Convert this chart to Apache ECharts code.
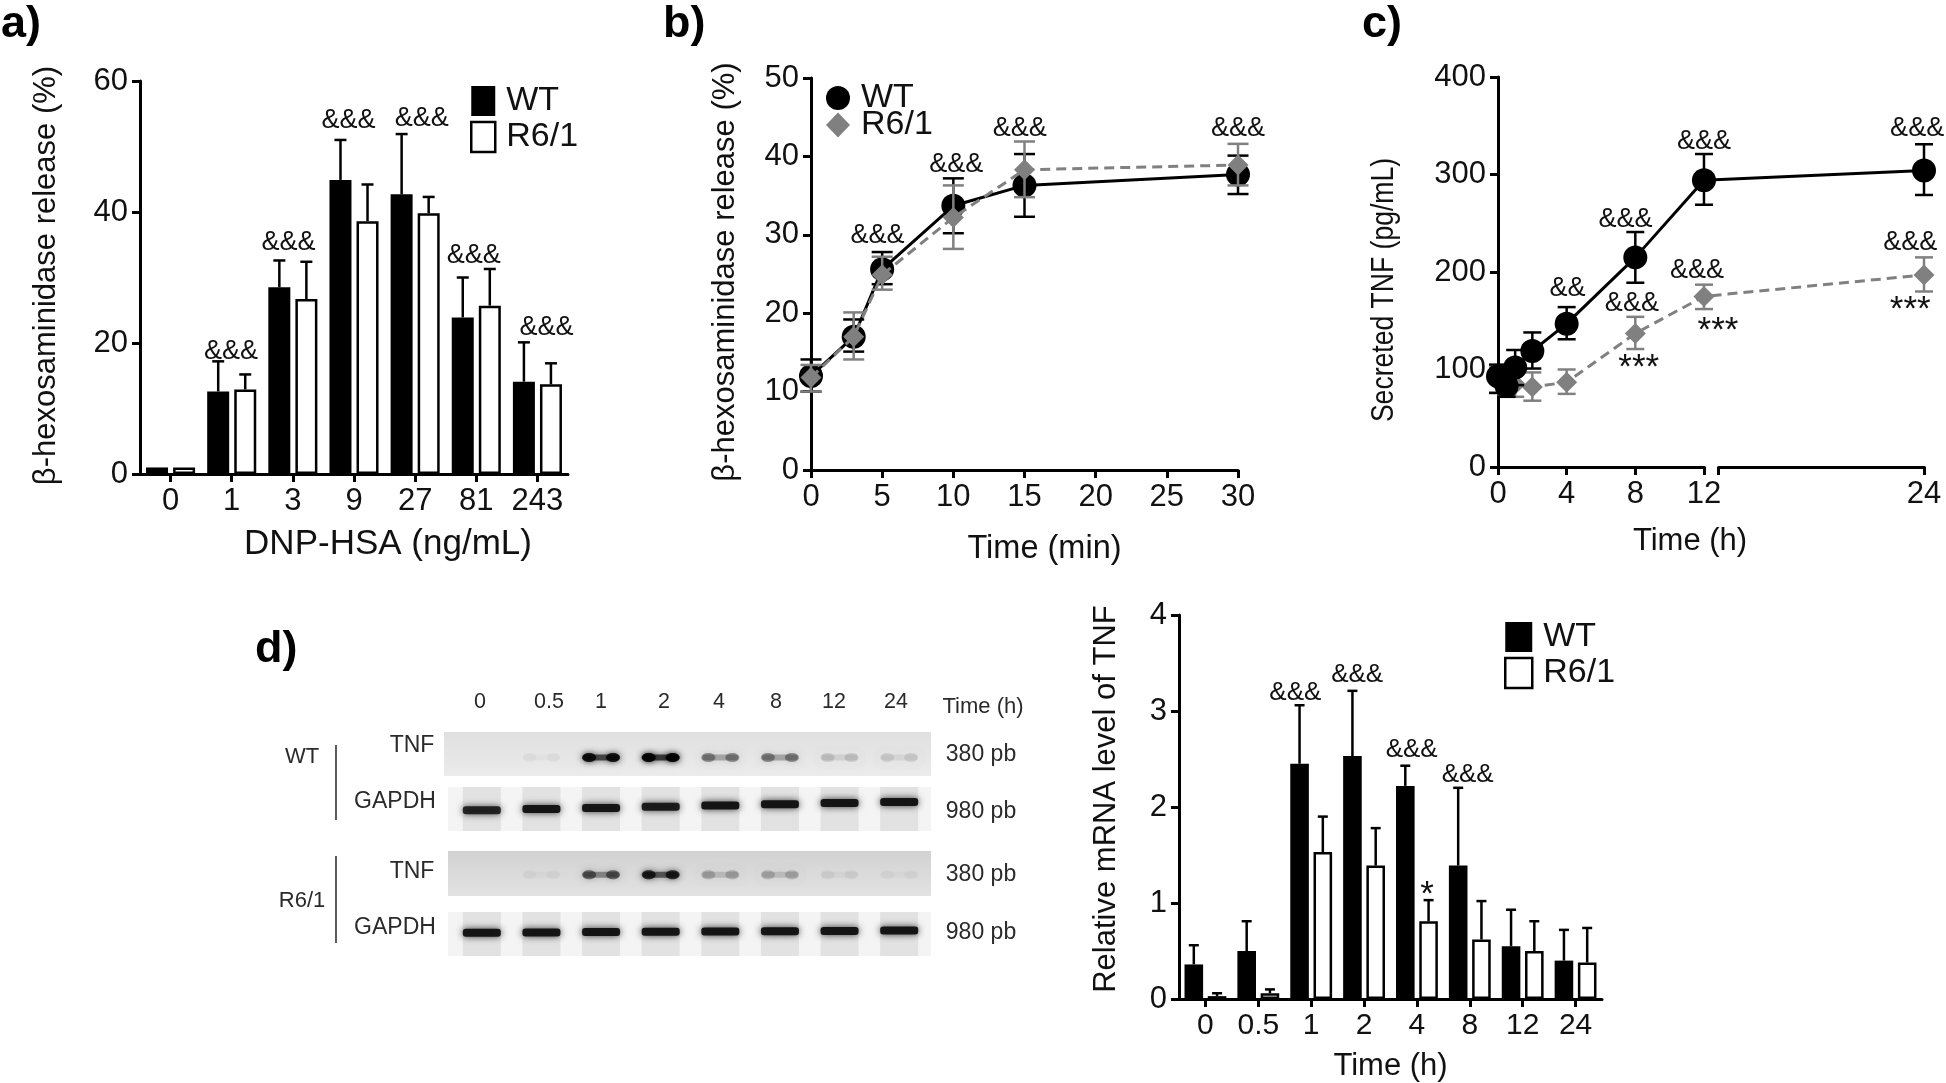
<!DOCTYPE html>
<html><head><meta charset="utf-8">
<style>html,body{margin:0;padding:0;background:#fff}#c{width:1946px;height:1083px}</style>
<script src="https://cdn.jsdelivr.net/npm/echarts@6/dist/echarts.min.js"></script></head>
<body><div id="c"></div>
<script>
// ---------- panel a ----------
const aCats = ['0','1','3','9','27','81','243'];
const aWT = [1,12.6,28.5,44.9,42.7,23.9,14.1];
const aWTerr = [1,17.2,32.6,51,51.9,30,20.1];
const aR6 = [1,12.9,26.7,38.6,39.8,25.7,13.7];
const aR6err = [1,15.2,32.4,44.2,42.3,31.3,16.9];
const aNoteX = [0.99,1.93,2.91,4.11,4.96,6.15];
const aNoteY = [18.7,35.3,54,54.3,33.4,22.4];
// ---------- panel b ----------
const bTime = [0,3,5,10,15,30];
const bWT = [12,17,25.6,33.7,36.3,37.7];
const bWTlow = [10,15.1,23.7,30.2,32.3,35.2];
const bWThigh = [14.1,19.2,27.8,37.2,40.3,40.1];
const bR6 = [11.8,17,24.9,32.2,38.3,38.9];
const bR6low = [10,14.1,23,28.2,34.8,36.3];
const bR6high = [13.4,20.1,27.2,36.3,41.9,41.6];
const bNoteX = [4.67,10.2,14.66,30];
const bNoteY = [29.9,38.9,43.5,43.6];
// ---------- panel c ----------
const cTime = [0,0.5,1,2,4,8,12,24];
const cWT = [93,83,102,119,147,215,294,304];
const cWTlow = [76,72,84,101,131,189,269,279];
const cWThigh = [105,100,120,138,164,241,321,331];
const cR6 = [88,84,85,82,87,137,175,197];
const cR6low = [76,74,72,68,75,121,162,180];
const cR6high = [102,98,98,97,100,154,187,215];
const cTicks = [0,4,8,12,24];
const cNoteX = [4.05,7.43,12,23.6,7.8,11.6,23.2];
const cNoteY = [182.6,254,334,347,168,201.5,230];
const cNoteT = ['&&','&&&','&&&','&&&','&&&','&&&','&&&'];
const cStarX = [8.2,12.001,23.2];
const cStarY = [101,139,161];
// ---------- panel d, chart ----------
const dCats = ['0','0.5','1','2','4','8','12','24'];
const dWT = [0.36,0.5,2.45,2.53,2.22,1.39,0.55,0.4];
const dWTerr = [0.56,0.81,3.06,3.21,2.43,2.2,0.93,0.72];
const dR6 = [0.03,0.06,1.53,1.39,0.81,0.62,0.5,0.38];
const dR6err = [0.06,0.1,1.9,1.78,1.03,1.02,0.81,0.74];
const dNoteX = [1.7,2.87,3.9,4.96];
const dNoteY = [3.19,3.38,2.6,2.33];
const dStarX = [4.19];
const dStarY = [1.08];
// ---------- panel d, gel band intensities per lane ----------
const gelWtTnf = [0,0.03,0.9,1,0.36,0.36,0.12,0.09];
const gelWtGapdh = [0.85,0.95,0.95,0.9,0.95,0.95,0.95,0.95];
const gelR6Tnf = [0,0.03,0.5,0.78,0.2,0.18,0.05,0.03];
const gelR6Gapdh = [0.95,0.95,0.95,0.95,0.95,0.95,0.95,0.95];
const gelLanes = ['0','0.5','1','2','4','8','12','24'];

const FONT = '"Liberation Sans", Arial, sans-serif';
const GREY = '#808080';
const chart = echarts.init(document.getElementById('c'), null, {renderer:'canvas'});

const grids=[], xAxes=[], yAxes=[], series=[], graphics=[];

function valueY(gridIndex, max, interval, font, title, size, gap, pad){
  yAxes.push({type:'value',gridIndex,min:0,max,interval,
    axisLine:{show:true,onZero:false,lineStyle:{color:'#000',width:3}},
    axisTick:{show:true,length:8,lineStyle:{color:'#000',width:3}},
    splitLine:{show:false},
    axisLabel:{color:'#111',fontFamily:FONT,fontSize:font,margin:12},
    name:title,nameLocation:'middle',nameGap:gap,
    nameTextStyle:{color:'#111',fontFamily:FONT,fontSize:size,padding:pad||0}});
}
function xName(t,size,gap,pad){return {name:t,nameLocation:'middle',nameGap:gap,
  nameTextStyle:{color:'#111',fontFamily:FONT,fontSize:size,padding:pad||0}};}
const xLine={show:true,onZero:false,lineStyle:{color:'#000',width:3}};
const xTick={show:true,length:8,lineStyle:{color:'#000',width:3},alignWithLabel:true};
function hiddenX(gridIndex,n){xAxes.push({type:'value',gridIndex,show:false,min:-0.5,max:n-0.5});return xAxes.length-1;}

function whisker(x,ax,low,high,color,capW,lw,z,lowerCap){
  const data=x.map((v,i)=>[v,low[i],high[i]]);
  series.push({type:'custom',xAxisIndex:ax.x,yAxisIndex:ax.y,silent:true,z,data,clip:false,
    encode:{x:0,y:[1,2]},
    renderItem(p,api){
      const a=api.coord([api.value(0),api.value(1)]), b=api.coord([api.value(0),api.value(2)]);
      const st={stroke:color,lineWidth:lw,fill:null};
      const ch=[{type:'line',shape:{x1:a[0],y1:a[1],x2:b[0],y2:b[1]},style:st},
        {type:'line',shape:{x1:b[0]-capW/2,y1:b[1],x2:b[0]+capW/2,y2:b[1]},style:st}];
      if(lowerCap) ch.push({type:'line',shape:{x1:a[0]-capW/2,y1:a[1],x2:a[0]+capW/2,y2:a[1]},style:st});
      return {type:'group',children:ch};
    }});
}
function notes(x,y,text,font,ax,z){
  const data=x.map((v,i)=>[v,y[i],Array.isArray(text)?text[i]:text]);
  series.push({type:'custom',xAxisIndex:ax.x,yAxisIndex:ax.y,silent:true,z:z||8,clip:false,data,
    encode:{x:0,y:1},
    renderItem(p,api){
      const a=api.coord([api.value(0),api.value(1)]);
      return {type:'text',x:a[0],y:a[1],style:{text:data[p.dataIndex][2],fontFamily:FONT,fontSize:font,
        fill:'#111',align:'center',verticalAlign:'middle'}};
    }});
}
function barPair(wt,r6,ax,barW,gap){
  series.push({name:'WT',type:'bar',xAxisIndex:ax.c,yAxisIndex:ax.y,data:wt,barWidth:barW,barGap:gap,
    itemStyle:{color:'#000',borderColor:'#000',borderWidth:0},z:3});
  series.push({name:'R6/1',type:'bar',xAxisIndex:ax.c,yAxisIndex:ax.y,data:r6,barWidth:barW,barGap:gap,
    itemStyle:{color:'#fff',borderColor:'#000',borderWidth:2.5},z:3});
}
function lineS(nameS,x,y,ax,color,dash,symbol,size,z){
  series.push({name:nameS,type:'line',xAxisIndex:ax.x,yAxisIndex:ax.y,data:x.map((v,i)=>[v,y[i]]),
    symbol,symbolSize:size,showSymbol:true,smooth:false,clip:false,
    lineStyle:{color,width:3,type:dash?[10,6]:'solid'},
    itemStyle:{color},z,emphasis:{disabled:true}});
}

// ---- panel a
grids.push({left:140,top:81,width:428,height:393});
xAxes.push(Object.assign({type:'category',gridIndex:0,data:aCats,axisLine:xLine,axisTick:xTick,
  axisLabel:{color:'#111',fontFamily:FONT,fontSize:31,margin:12,interval:0}},xName('DNP-HSA (ng/mL)',35,53,[0,0,0,68])));
hiddenX(0,7);
valueY(0,60,20,31,'β-hexosaminidase release (%)',31,78,[0,0,0,4]);
barPair(aWT,aR6,{c:0,y:0},22,'23%');
whisker(aCats.map((_,i)=>i-0.221).slice(1),{x:1,y:0},aWT.slice(1),aWTerr.slice(1),'#000',12,2.5,2);
whisker(aCats.map((_,i)=>i+0.221).slice(1),{x:1,y:0},aR6.slice(1),aR6err.slice(1),'#000',12,2.5,2);
notes(aNoteX,aNoteY,'&&&',27,{x:1,y:0});

// ---- panel b
grids.push({left:811,top:78,width:427,height:392});
xAxes.push(Object.assign({type:'value',gridIndex:1,min:0,max:30,interval:5,axisLine:xLine,axisTick:xTick,splitLine:{show:false},
  axisLabel:{color:'#111',fontFamily:FONT,fontSize:31,margin:12}},xName('Time (min)',32.5,63,[0,0,0,40])));
valueY(1,50,10,31,'β-hexosaminidase release (%)',31,70,[0,0,0,4]);
whisker(bTime,{x:2,y:1},bWTlow,bWThigh,'#000',21,2.5,3,true);
lineS('WT',bTime,bWT,{x:2,y:1},'#000',false,'circle',24,4);
whisker(bTime,{x:2,y:1},bR6low,bR6high,GREY,21,2.5,5,true);
lineS('R6/1',bTime,bR6,{x:2,y:1},GREY,true,'diamond',21,6);
notes(bNoteX,bNoteY,'&&&',27,{x:2,y:1});

// ---- panel c (axis break between 12 and 24)
grids.push({left:1498,top:77,width:426,height:390});
xAxes.push(Object.assign({type:'value',gridIndex:2,min:0,max:24,axisLine:xLine,
  axisTick:Object.assign({},xTick,{customValues:[0,4,8,12,12.001,24]}),splitLine:{show:false},
  breaks:[{start:12,end:12.001,gap:0.82}],
  breakArea:{show:true,itemStyle:{opacity:0,borderWidth:0},zigzagAmplitude:0},
  axisLabel:{color:'#111',fontFamily:FONT,fontSize:31,margin:12,customValues:cTicks}},xName('Time (h)',31,59,[0,42,0,0])));
valueY(2,400,100,31,'',27.5,98);
whisker(cTime,{x:3,y:2},cWTlow,cWThigh,'#000',18,2.5,3,true);
lineS('WT',cTime,cWT,{x:3,y:2},'#000',false,'circle',24,4);
whisker(cTime,{x:3,y:2},cR6low,cR6high,GREY,18,2.5,2.5,true);
lineS('R6/1',cTime,cR6,{x:3,y:2},GREY,true,'diamond',21,2.6);
notes(cNoteX,cNoteY,cNoteT,27,{x:3,y:2});
notes(cStarX,cStarY,'***',35,{x:3,y:2});
graphics.push({type:'text',z:10,x:1384,y:290,rotation:Math.PI/2,scaleX:0.83,
  style:{text:'Secreted TNF (pg/mL)',fontFamily:FONT,fontSize:32,fill:'#111',align:'center',verticalAlign:'middle'}});

// ---- panel d chart
grids.push({left:1179,top:615,width:423,height:387});
xAxes.push(Object.assign({type:'category',gridIndex:3,data:dCats,axisLine:xLine,axisTick:xTick,
  axisLabel:{color:'#111',fontFamily:FONT,fontSize:30,margin:12,interval:0}},xName('Time (h)',31,52)));
const dHidden=hiddenX(3,8);
valueY(3,4,1,31,'Relative mRNA level of TNF',31,57,[0,0,0,16]);
barPair(dWT,dR6,{c:xAxes.length-2,y:3},18.6,'25%');
whisker(dCats.map((_,i)=>i-0.22),{x:dHidden,y:3},dWT,dWTerr,'#000',10,2.5,2);
whisker(dCats.map((_,i)=>i+0.22),{x:dHidden,y:3},dR6,dR6err,'#000',10,2.5,2);
notes(dNoteX,dNoteY,'&&&',26,{x:dHidden,y:3});
notes(dStarX,dStarY,'*',35,{x:dHidden,y:3});

// ---- panel d gel rows, one hidden grid per row
const gelRows=[
 {vals:gelWtTnf,top:732,h:44,bx:444,bg:['#e0e0e0','#ebebeb'],pos:0.58,tilt:0,lanes:false},
 {vals:gelWtGapdh,top:787,h:44,bx:448,bg:['#f4f4f4','#f4f4f4'],pos:0.53,tilt:-1.2,lanes:true},
 {vals:gelR6Tnf,top:851,h:45,bx:448,bg:['#d2d2d2','#e2e2e2'],pos:0.53,tilt:0,lanes:false},
 {vals:gelR6Gapdh,top:912,h:44,bx:448,bg:['#f4f4f4','#f4f4f4'],pos:0.47,tilt:-0.3,lanes:true}];
gelRows.forEach(r=>{
  graphics.push({type:'rect',z:0,shape:{x:r.bx,y:r.top,width:931-r.bx,height:r.h},
    style:{fill:new echarts.graphic.LinearGradient(0,0,0,1,[{offset:0,color:r.bg[0]},{offset:1,color:r.bg[1]}])}});
  const gi=grids.length;
  grids.push({left:452,top:r.top,width:477,height:r.h});
  xAxes.push({type:'value',gridIndex:gi,show:false,min:-0.5,max:7.5});
  yAxes.push({type:'value',gridIndex:gi,show:false,min:0,max:1,inverse:true});
  const xi=xAxes.length-1, yi=yAxes.length-1;
  series.push({type:'custom',xAxisIndex:xi,yAxisIndex:yi,silent:true,z:2,
    data:r.vals.map((v,i)=>[i,r.pos,v]),encode:{x:0,y:1},
    renderItem(p,api){
      const c=api.coord([api.value(0),api.value(1)]), v=api.value(2), ch=[];
      const cy=c[1]+r.tilt*api.value(0);
      if(r.lanes){
        ch.push({type:'rect',shape:{x:c[0]-19,y:r.top,width:38,height:r.h},style:{fill:'#e2e2e2'}});
        ch.push({type:'rect',shape:{x:c[0]-19,y:cy-4,width:38,height:8,r:3},
          style:{fill:'rgba(15,15,15,'+v+')',shadowBlur:7,shadowColor:'rgba(0,0,0,0.8)'}});
      } else if(v>0.02){
        const a=Math.min(1,v);
        ch.push({type:'rect',shape:{x:c[0]-18,y:cy-3,width:36,height:6,r:3},
          style:{fill:'rgba(30,30,30,'+(a*0.8)+')',shadowBlur:7,shadowColor:'rgba(0,0,0,'+(a*0.7)+')'}});
        [-12,12].forEach(d=>ch.push({type:'ellipse',shape:{cx:c[0]+d,cy,rx:7,ry:4.5},
          style:{fill:'rgba(0,0,0,'+(a*0.9)+')',shadowBlur:6,shadowColor:'rgba(0,0,0,'+(a*0.7)+')'}}));
      }
      return {type:'group',children:ch};
    }});
});
function gt(text,x,y,size,align,weight){
  graphics.push({type:'text',z:10,x,y,style:{text,fontFamily:FONT,fontSize:size,fontWeight:weight||'normal',
    fill:weight?'#000':'#2a2a2a',align:align||'center',verticalAlign:'middle'}});
}
const laneX=[480,549,601,664,719,776,834,896];
gelLanes.forEach((t,i)=>gt(t,laneX[i],702,21.5));
gt('Time (h)',983,707,22);
gt('380 pb',981,755,23); gt('980 pb',981,812,23); gt('380 pb',981,875,23); gt('980 pb',981,933,23);
gt('TNF',412,746,23); gt('GAPDH',395,802,23); gt('TNF',412,872,23); gt('GAPDH',395,928,23);
gt('WT',302,757,22); gt('R6/1',302,901,22);
graphics.push({type:'line',z:5,shape:{x1:336,y1:745,x2:336,y2:820},style:{stroke:'#333',lineWidth:1.6}});
graphics.push({type:'line',z:5,shape:{x1:336,y1:856,x2:336,y2:943},style:{stroke:'#333',lineWidth:1.6}});
// panel letters
gt('a)',1,25,45,'left','bold'); gt('b)',663,25,45,'left','bold');
gt('c)',1362,25,45,'left','bold'); gt('d)',255,650,45,'left','bold');

const legTxt={color:'#111',fontFamily:FONT,fontSize:34,padding:[0,0,0,6]};
const barLegend=(left,top,w,h)=>({left,top,orient:'vertical',itemWidth:w,itemHeight:h,itemGap:2,selectedMode:false,textStyle:legTxt,
  data:[{name:'WT',icon:'rect',itemStyle:{color:'#000',borderWidth:0}},
        {name:'R6/1',icon:'rect',itemStyle:{color:'#fff',borderColor:'#000',borderWidth:2.5}}]});
const option={animation:false,backgroundColor:'#fff',
  grid:grids,xAxis:xAxes,yAxis:yAxes,series,
  graphic:{elements:graphics},
  legend:[barLegend(465,79,24,30),barLegend(1499,615,27,30),
    {left:821,top:76,itemWidth:24,itemHeight:30,selectedMode:false,textStyle:legTxt,
     data:[{name:'WT',icon:'circle',itemStyle:{color:'#000',borderWidth:0},lineStyle:{opacity:0}}]},
    {left:821,top:103,itemWidth:24,itemHeight:25,selectedMode:false,textStyle:legTxt,
     data:[{name:'R6/1',icon:'diamond',itemStyle:{color:GREY,borderWidth:0},lineStyle:{opacity:0}}]}]
};
chart.setOption(option);
</script></body></html>
